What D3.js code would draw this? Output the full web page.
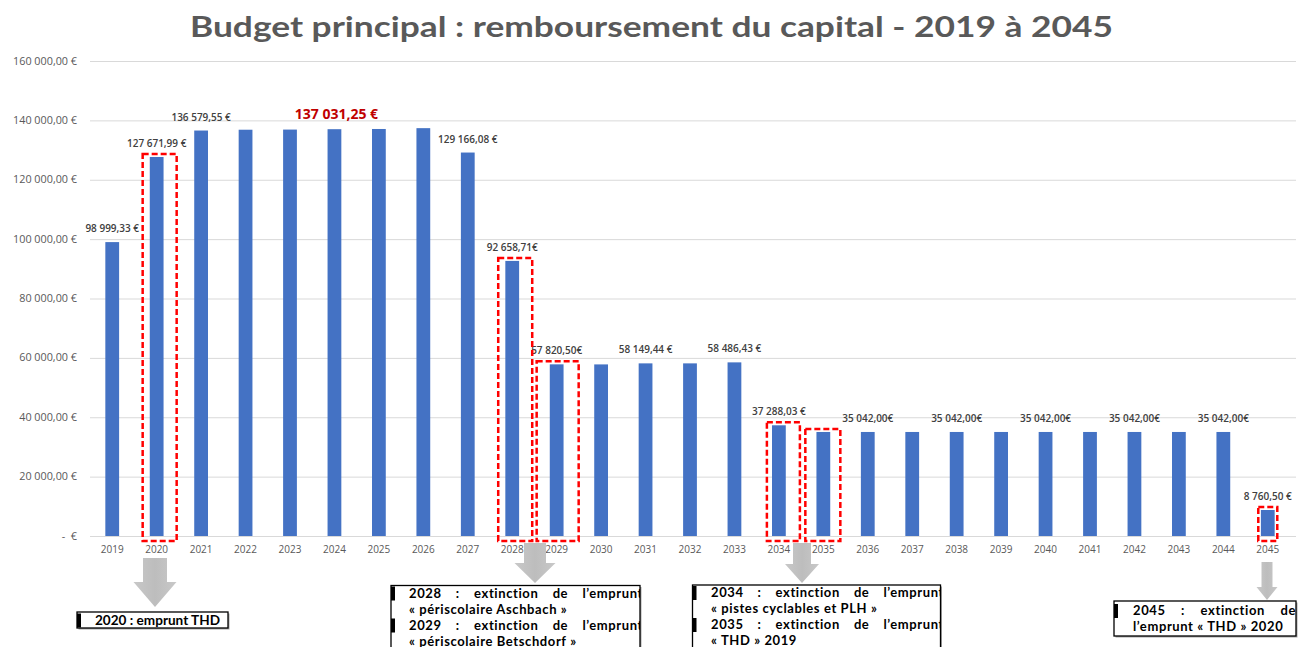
<!DOCTYPE html>
<html>
<head>
<meta charset="utf-8">
<script src="https://cdn.jsdelivr.net/npm/d3@7"></script>
<style>
  body { margin: 0; background: #fff; }
  svg { display: block; }
</style>
</head>
<body>
<div id="chart"></div>
<script>
// remboursement du capital, budget principal
var years = d3.range(2019, 2046).map(String)
var amounts = [98999.33, 127671.99, 136579.55, 136850, 136900, 137031.25, 137100, 137380,
               129166.08, 92658.71, 57820.50, 57800, 58149.44, 58150, 58486.43, 37288.03,
               35042, 35042, 35042, 35042, 35042, 35042, 35042, 35042, 35042, 35042, 8760.50]
var yTicks = [0, 20000, 40000, 60000, 80000, 100000, 120000, 140000, 160000]
var labelYears = ['2019', '2020', '2021', '2027', '2028', '2029', '2031', '2033', '2034',
                  '2036', '2038', '2040', '2042', '2044', '2045']
var labelTexts = ['98 999,33 €', '127 671,99 €', '136 579,55 €', '129 166,08 €', '92 658,71€',
                  '57 820,50€', '58 149,44 €', '58 486,43 €', '37 288,03 €', '35 042,00€',
                  '35 042,00€', '35 042,00€', '35 042,00€', '35 042,00€', '8 760,50 €']
var bigLabelYear = '2024'
var bigLabelText = '137 031,25 €'
var highlightYears = ['2020', '2028', '2029', '2034', '2035', '2045']

var width = 1310
var height = 647

var svg = d3.select('#chart').append('svg')
            .attr('width', width)
            .attr('height', height)
            .style('font-family', '"Open Sans", sans-serif')

var x = d3.scaleBand()
          .domain(years)
          .range([90, 1290])
          .paddingInner(0.69)
          .paddingOuter(0.345)

var y = d3.scaleLinear()
          .domain([0, 160000])
          .range([536, 61])

function euro(v) {
  if (v === 0) return '-  €'
  return d3.format(',.2f')(v).replace(/,/g, ' ').replace('.', ',') + ' €'
}

// title
svg.append('text')
   .attr('x', 190)
   .attr('y', 37)
   .attr('textLength', 923)
   .attr('lengthAdjust', 'spacingAndGlyphs')
   .style('font-family', 'Lato, "Open Sans", sans-serif')
   .style('font-weight', 'bold')
   .style('font-size', '29px')
   .style('fill', '#595959')
   .text('Budget principal : remboursement du capital - 2019 à 2045')

// grid + y labels
svg.append('g').selectAll('line')
   .data(yTicks)
   .enter().append('line')
   .attr('x1', 90).attr('x2', 1296)
   .attr('y1', function(d) { return y(d) + 0.5 })
   .attr('y2', function(d) { return y(d) + 0.5 })
   .style('stroke', '#d9d9d9')
   .style('stroke-width', 1)

svg.append('g').selectAll('text')
   .data(yTicks)
   .enter().append('text')
   .attr('x', 77)
   .attr('y', function(d) { return y(d) + 3.5 })
   .attr('text-anchor', 'end')
   .style('font-size', '10.8px')
   .style('fill', '#595959')
   .style('white-space', 'pre')
   .text(euro)

// bars
svg.append('g').selectAll('rect')
   .data(years)
   .enter().append('rect')
   .attr('x', function(d) { return x(d) })
   .attr('width', x.bandwidth())
   .attr('y', function(d, i) { return y(amounts[i]) })
   .attr('height', function(d, i) { return y(0) - y(amounts[i]) })
   .style('fill', '#4472c4')

// x axis labels
svg.append('g').selectAll('text')
   .data(years)
   .enter().append('text')
   .attr('x', function(d) { return x(d) + x.bandwidth() / 2 })
   .attr('y', 553)
   .attr('text-anchor', 'middle')
   .style('font-size', '10px')
   .style('fill', '#595959')
   .text(function(d) { return d })

// value labels
function valueOf(yr) { return amounts[years.indexOf(yr)] }

svg.append('g').selectAll('text')
   .data(labelYears)
   .enter().append('text')
   .attr('x', function(d) { return x(d) + x.bandwidth() / 2 })
   .attr('y', function(d) { return y(valueOf(d)) - 10 })
   .attr('text-anchor', 'middle')
   .style('font-size', '10px')
   .style('font-weight', 600)
   .style('fill', '#404040')
   .text(function(d, i) { return labelTexts[i] })

svg.append('text')
   .attr('x', x(bigLabelYear) + x.bandwidth() / 2 + 2)
   .attr('y', y(valueOf(bigLabelYear)) - 10)
   .attr('text-anchor', 'middle')
   .style('font-size', '14px')
   .style('font-weight', 'bold')
   .style('fill', '#c00000')
   .text(bigLabelText)

// red dashed boxes (left / right pad around bar centre)
var boxPad = {'2020': [14, 20], '2028': [14, 20], '2029': [20, 22], '2034': [12, 21],
              '2035': [18, 17], '2045': [9.5, 9.5]}
svg.append('g').selectAll('rect')
   .data(highlightYears)
   .enter().append('rect')
   .attr('x', function(d) { return x(d) + x.bandwidth() / 2 - boxPad[d][0] })
   .attr('width', function(d) { return boxPad[d][0] + boxPad[d][1] })
   .attr('y', function(d) { return y(valueOf(d)) - 3 })
   .attr('height', function(d) { return 541 - y(valueOf(d)) + 3 })
   .style('fill', 'none')
   .style('stroke', '#ff0000')
   .style('stroke-width', 2.5)
   .style('stroke-dasharray', '6,3')

// grey arrows
var arrows = [
  {cx: 155, top: 558, shaft: 24, head: 43, headTop: 582, tip: 607},
  {cx: 535, top: 543, shaft: 22, head: 41, headTop: 563, tip: 583},
  {cx: 802, top: 543, shaft: 18, head: 34, headTop: 564, tip: 583},
  {cx: 1267, top: 562, shaft: 11, head: 21, headTop: 587, tip: 600}
]
var grad = svg.append('defs').append('linearGradient')
              .attr('id', 'ag').attr('x1', 0).attr('x2', 1).attr('y1', 0).attr('y2', 0)
grad.append('stop').attr('offset', '0%').attr('stop-color', '#c8c8c8')
grad.append('stop').attr('offset', '50%').attr('stop-color', '#bdbdbd')
grad.append('stop').attr('offset', '100%').attr('stop-color', '#c8c8c8')

svg.append('g').selectAll('path')
   .data(arrows)
   .enter().append('path')
   .attr('d', function(a) {
     var s = a.shaft / 2, h = a.head / 2
     return 'M' + (a.cx - s) + ',' + a.top + 'L' + (a.cx + s) + ',' + a.top +
            'L' + (a.cx + s) + ',' + a.headTop + 'L' + (a.cx + h) + ',' + a.headTop +
            'L' + a.cx + ',' + a.tip + 'L' + (a.cx - h) + ',' + a.headTop +
            'L' + (a.cx - s) + ',' + a.headTop + 'Z'
   })
   .style('fill', 'url(#ag)')

// note boxes
var notes = [
  {x: 77, y: 612, w: 151, h: 16, tx: 95, right: 222, lh: 16, first: 12.5, fs: 13.5, fit: 125,
   lines: [['2020 : emprunt THD', false, true]]},
  {x: 391, y: 585.5, w: 249, h: 80, tx: 409, right: 643, lh: 16, first: 12, fs: 13,
   lines: [['2028 : extinction de l’emprunt', true, true], ['« périscolaire Aschbach »', false, false],
           ['2029 : extinction de l’emprunt', true, true], ['« périscolaire Betschdorf »', false, false]]},
  {x: 692.5, y: 585, w: 248, h: 80, tx: 711, right: 944, lh: 16, first: 12, fs: 13,
   lines: [['2034 : extinction de l’emprunt', true, true], ['« pistes cyclables et PLH »', false, false],
           ['2035 : extinction de l’emprunt', true, true], ['« THD » 2019', false, false]]},
  {x: 1114, y: 601, w: 182, h: 35, tx: 1133, right: 1296, lh: 16, first: 14, fs: 13,
   lines: [['2045 : extinction de', true, true], ['l’emprunt « THD » 2020', false, false]]}
]

var defs = svg.select('defs')
notes.forEach(function(n, k) {
  defs.append('clipPath').attr('id', 'nc' + k)
      .append('rect').attr('x', n.x).attr('y', n.y).attr('width', n.w).attr('height', n.h)

  var g = svg.append('g')
  g.append('rect')
   .attr('x', n.x + 1.5).attr('y', n.y + 1.5).attr('width', n.w).attr('height', n.h)
   .style('fill', '#a6a6a6')
  g.append('rect')
   .attr('x', n.x).attr('y', n.y).attr('width', n.w).attr('height', n.h)
   .style('fill', '#fff').style('stroke', '#000').style('stroke-width', 1.3)

  var inner = g.append('g').attr('clip-path', 'url(#nc' + k + ')')
  n.lines.forEach(function(l, i) {
    var base = n.y + n.first + i * n.lh
    if (l[2]) {
      inner.append('rect').attr('x', n.x).attr('y', base - 11).attr('width', 4).attr('height', 14)
           .style('fill', '#000')
    }
    var words = l[1] ? l[0].split(' ') : [l[0]]
    var ts = words.map(function(w) {
      return inner.append('text')
                  .attr('y', base)
                  .style('font-family', 'Lato, "Open Sans", sans-serif')
                  .style('font-weight', 'bold')
                  .style('font-size', n.fs + 'px')
                  .style('letter-spacing', n.fit ? null : '0.6px')
                  .style('fill', '#000')
                  .text(w)
    })
    if (!l[1]) {
      ts[0].attr('x', n.tx)
      if (n.fit) ts[0].attr('textLength', n.fit).attr('lengthAdjust', 'spacingAndGlyphs')
      return
    }
    var ws = ts.map(function(t) { return t.node().getComputedTextLength() })
    var total = d3.sum(ws)
    var gap = (n.right - n.tx - total) / (words.length - 1)
    var cx = n.tx
    ts.forEach(function(t, j) { t.attr('x', cx); cx += ws[j] + gap })
  })
})
</script>
</body>
</html>
